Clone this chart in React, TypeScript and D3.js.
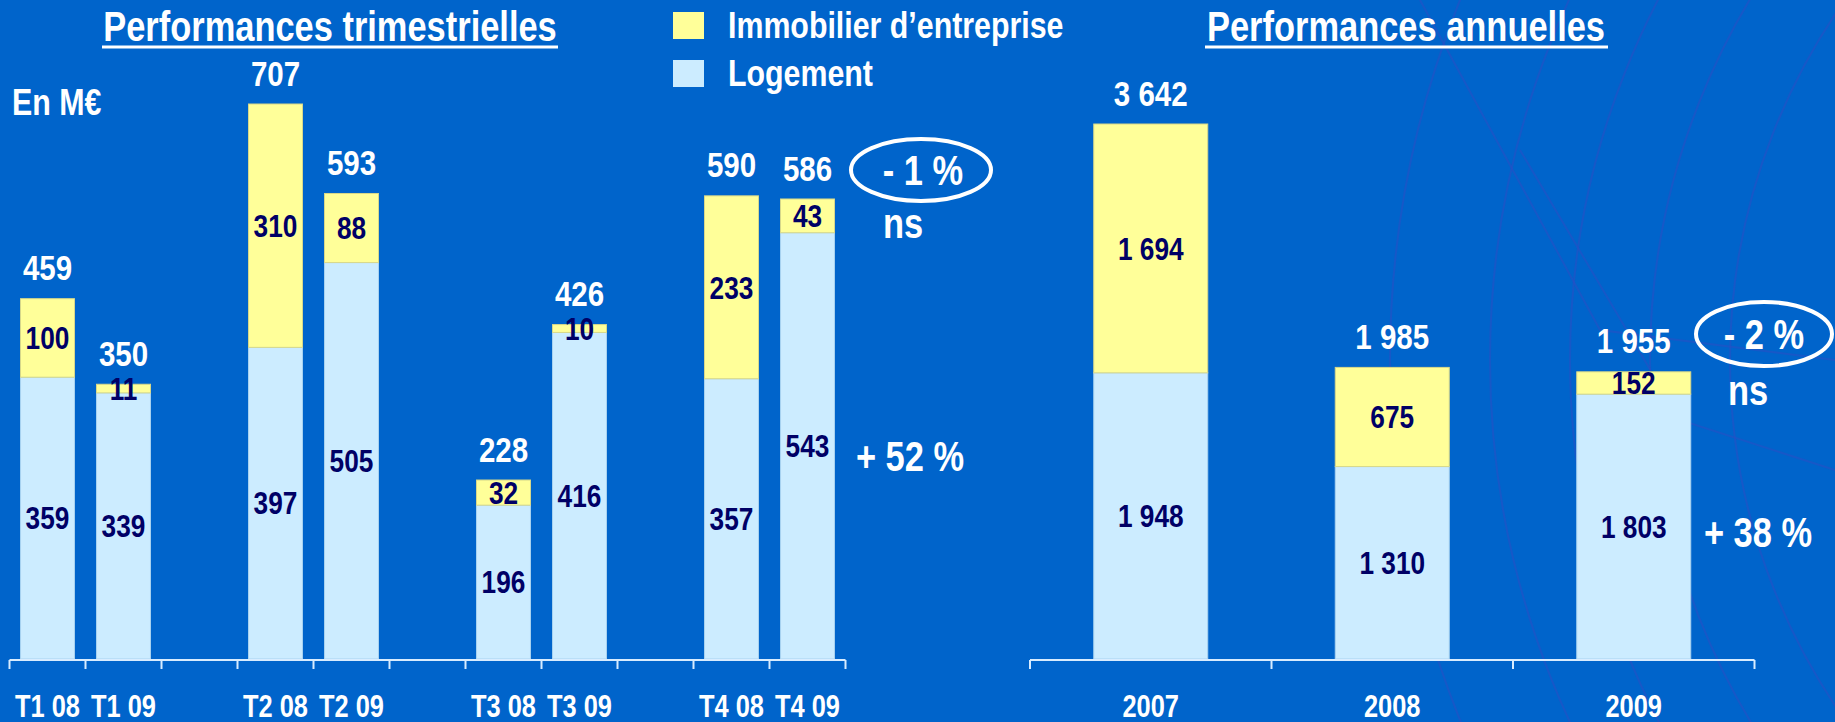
import * as d3 from "d3";
import { useEffect } from "react";

// quarterly data (M€), empty slots are spacers between quarters
const quarters = ["T1 08", "T1 09", "gap1", "T2 08", "T2 09", "gap2", "T3 08", "T3 09", "gap3", "T4 08", "T4 09"];
const qLogement = [359, 339, null, 397, 505, null, 196, 416, null, 357, 543];
const qImmo = [100, 11, null, 310, 88, null, 32, 10, null, 233, 43];
const qTotals = [459, 350, null, 707, 593, null, 228, 426, null, 590, 586];

// annual data
const years = ["2007", "2008", "2009"];
const yLogement = [1948, 1310, 1803];
const yImmo = [1694, 675, 152];
const yTotals = [3642, 1985, 1955];

const fmt = (v: number) => (v >= 1000 ? d3.format(",")(v).replace(",", " ") : String(v));

const BG = "#0064CB";
const YELLOW = "#FFFF99";
const BLUE = "#CCECFF";
const NAVY = "#000066";
const FONT = "'Liberation Sans Narrow', 'Arial Narrow', 'Liberation Sans', Arial, sans-serif";

// narrow text: Arial Narrow is ~82% of Arial's width, so squeeze horizontally
const NText = ({ x, y, size, fill = "white", anchor = "middle", children }: any) => (
  <text
    transform={`translate(${x},${y}) scale(0.82,1)`}
    dy="0.35em"
    textAnchor={anchor}
    fill={fill}
    fontSize={size}
  >
    {children}
  </text>
);

export default function App() {
  useEffect(() => {
    document.body.style.margin = "0";
  }, []);

  const base = 659;

  const xq = d3.scaleBand<string>().domain(quarters).range([9.5, 845.5]).paddingInner(0.29).paddingOuter(0.145);
  const yq = d3.scaleLinear().domain([0, 707]).range([base, 104]);
  const qStep = xq.step();

  const xy = d3.scaleBand<string>().domain(years).range([1030, 1754.5]).paddingInner(0.528).paddingOuter(0.264);
  const yy = d3.scaleLinear().domain([0, 3642]).range([base, 124]);
  const yStep = xy.step();

  const qTicks = quarters.map((q) => (xq(q) as number) - (qStep - xq.bandwidth()) / 2).concat([845.5]);
  const yTicks = years.map((q) => (xy(q) as number) - (yStep - xy.bandwidth()) / 2).concat([1754.5]);

  // faint decorative arcs in the background (logo watermark)
  const arcs = [620, 700, 780, 860, 960];

  return (
    <svg width={1835} height={722} style={{ position: "absolute", left: 0, top: 0 }} fontFamily={FONT} fontWeight="bold">
      <rect width={1835} height={722} fill={BG} />
      <g fill="none" stroke="#2a4fc4" strokeOpacity={0.55} strokeWidth={2}>
        {arcs.map((r, i) => (
          <circle key={i} cx={2350} cy={360} r={r} />
        ))}
        <path d="M1420,0 L1600,330 L1835,360" />
        <path d="M1520,150 L1680,420 L1835,470" />
      </g>

      {/* titles */}
      <NText x={330} y={26} size={42}>Performances trimestrielles</NText>
      <line x1={102} x2={558} y1={47} y2={47} stroke="white" strokeWidth={3} />
      <NText x={1406} y={26} size={42}>Performances annuelles</NText>
      <line x1={1205} x2={1608} y1={47} y2={47} stroke="white" strokeWidth={3} />

      <NText x={12} y={102} size={37} anchor="start">En M€</NText>

      {/* legend */}
      <rect x={673} y={12} width={31} height={27} fill={YELLOW} />
      <NText x={728} y={25} size={37} anchor="start">Immobilier d’entreprise</NText>
      <rect x={673} y={60} width={31} height={27} fill={BLUE} />
      <NText x={728} y={73} size={37} anchor="start">Logement</NText>

      {/* quarterly bars */}
      {quarters.map((q, i) => {
        const lg = qLogement[i];
        const im = qImmo[i];
        if (lg === null || im === null) return null;
        const x = xq(q) as number;
        const w = xq.bandwidth();
        const cx = x + w / 2;
        return (
          <g key={q}>
            <rect x={x} y={yq(lg)} width={w} height={base - yq(lg)} fill={BLUE} stroke="#a9d3f0" strokeWidth={1} />
            <rect x={x} y={yq(lg + im)} width={w} height={yq(lg) - yq(lg + im)} fill={YELLOW} stroke="#d8d88a" strokeWidth={1} />
            <NText x={cx} y={(yq(lg) + base) / 2} size={32} fill={NAVY}>{lg}</NText>
            <NText x={cx} y={(yq(lg) + yq(lg + im)) / 2} size={32} fill={NAVY}>{im}</NText>
            <NText x={cx} y={yq(lg + im) - 31} size={36}>{qTotals[i]}</NText>
            <NText x={cx} y={706} size={31}>{q}</NText>
          </g>
        );
      })}
      <g stroke="#d8ecff" strokeWidth={2} fill="none">
        <line x1={9.5} x2={845.5} y1={base + 1} y2={base + 1} />
        {qTicks.map((t, i) => (
          <line key={i} x1={t} x2={t} y1={base + 1} y2={base + 10} />
        ))}
      </g>

      {/* annual bars */}
      {years.map((yr, i) => {
        const lg = yLogement[i];
        const im = yImmo[i];
        const x = xy(yr) as number;
        const w = xy.bandwidth();
        const cx = x + w / 2;
        return (
          <g key={yr}>
            <rect x={x} y={yy(lg)} width={w} height={base - yy(lg)} fill={BLUE} stroke="#a9d3f0" strokeWidth={1} />
            <rect x={x} y={yy(lg + im)} width={w} height={yy(lg) - yy(lg + im)} fill={YELLOW} stroke="#d8d88a" strokeWidth={1} />
            <NText x={cx} y={(yy(lg) + base) / 2} size={32} fill={NAVY}>{fmt(lg)}</NText>
            <NText x={cx} y={(yy(lg) + yy(lg + im)) / 2} size={32} fill={NAVY}>{fmt(im)}</NText>
            <NText x={cx} y={yy(yTotals[i]) - 31} size={36}>{fmt(yTotals[i])}</NText>
            <NText x={cx} y={706} size={31}>{yr}</NText>
          </g>
        );
      })}
      <g stroke="#d8ecff" strokeWidth={2} fill="none">
        <line x1={1030} x2={1754.5} y1={base + 1} y2={base + 1} />
        {yTicks.map((t, i) => (
          <line key={i} x1={t} x2={t} y1={base + 1} y2={base + 10} />
        ))}
      </g>

      {/* annotations */}
      <ellipse cx={921} cy={170} rx={70} ry={31} fill="none" stroke="white" strokeWidth={4} />
      <NText x={923} y={170} size={42}>- 1 %</NText>
      <NText x={903} y={223} size={42}>ns</NText>
      <NText x={910} y={456} size={42}>+ 52 %</NText>

      <ellipse cx={1764} cy={334} rx={68} ry={32} fill="none" stroke="white" strokeWidth={4} />
      <NText x={1764} y={334} size={42}>- 2 %</NText>
      <NText x={1748} y={390} size={42}>ns</NText>
      <NText x={1758} y={532} size={42}>+ 38 %</NText>
    </svg>
  );
}
